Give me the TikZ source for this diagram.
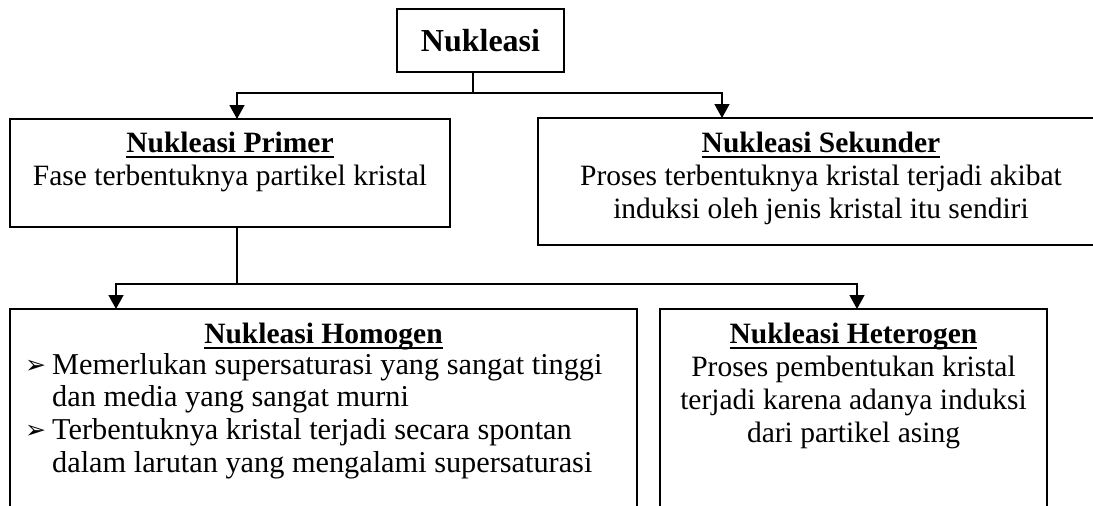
\documentclass[tikz,border=0pt]{standalone}
\usepackage{fontspec}
\setmainfont{Liberation Serif}
\newfontfamily\symfont{DejaVu Sans}
\usetikzlibrary{positioning,arrows.meta}
\newcommand\bodyfont{\fontsize{29.5}{33}\selectfont}
\newcommand\listfont{\fontsize{30.3}{32.7}\selectfont}
\newlength\ulwd
\newcommand\ulhead[1]{\settowidth\ulwd{\textbf{#1}}\textbf{#1}\llap{\rule[-6pt]{\ulwd}{2.5pt}}}
\newcommand\bul{\makebox[27pt][l]{\raisebox{1pt}{\symfont\fontsize{25}{25}\selectfont ➢}}}

\begin{document}
\begin{tikzpicture}[x=1pt,y=-1pt,
  box/.style={draw, line width=2pt, inner sep=0pt, outer sep=0pt, anchor=north west},
  txt/.style={inner sep=0pt, font=\bodyfont, align=center, anchor=north},
  link/.style={line width=1.5pt},
  arr/.style={line width=1.5pt, -{Triangle[width=15pt,length=14pt]}}]
\useasboundingbox (0,0) rectangle (1093,506);

\node[box, minimum width=167pt, minimum height=63pt, font=\fontsize{32}{36}\selectfont\bfseries] (nuk) at (397,9) {Nukleasi};
\node[box, minimum width=440pt, minimum height=108pt] (prim) at (10,119) {};
\node[box, minimum width=566pt, minimum height=127pt] (sek) at (538,118) {};
\node[box, minimum width=627pt, minimum height=230pt] (homo) at (10,309) {};
\node[box, minimum width=387pt, minimum height=230pt] (hete) at (660,309) {};

\node[txt, below=10pt of prim.north] (primT) {\strut\ulhead{Nukleasi Primer}\\Fase terbentuknya partikel kristal};
\node[txt, below=11pt of sek.north] (sekT) {\strut\ulhead{Nukleasi Sekunder}\\Proses terbentuknya kristal terjadi akibat\\induksi oleh jenis kristal itu sendiri};
\node[txt, below=11pt of homo.north] (homoT) {\strut\ulhead{Nukleasi Homogen}};
\node[txt, anchor=north west, align=left, font=\listfont] (homoL) at (25,351) {%
\begin{tabular}{@{}l@{}l@{}}
\bul & Memerlukan supersaturasi yang sangat tinggi\\
 & dan media yang sangat murni\\
\bul & Terbentuknya kristal terjadi secara spontan\\
 & dalam larutan yang mengalami supersaturasi
\end{tabular}};
\node[txt, below=11pt of hete.north] (heteT) {\strut\ulhead{Nukleasi Heterogen}\\Proses pembentukan kristal\\terjadi karena adanya induksi\\dari partikel asing};

\coordinate (forkA) at (473,93);
\coordinate (forkB) at (237,284);
\draw[link] (forkA |- nuk.south) -- (forkA);
\draw[arr] (forkA) -| ([xshift=7pt]prim.north);
\draw[arr] (forkA) -| ([xshift=-99pt]sek.north);
\draw[link] (forkB |- prim.south) -- (forkB);
\draw[arr] (forkB) -| ([xshift=-207.5pt]homo.north);
\draw[arr] (forkB) -| ([xshift=3.5pt]hete.north);
\end{tikzpicture}
\end{document}
